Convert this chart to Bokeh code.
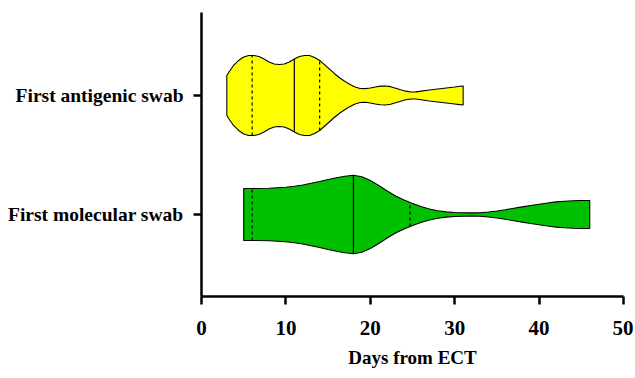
import numpy as np
from bokeh.plotting import figure
from bokeh.models import FixedTicker, Range1d
from bokeh.embed import file_html
from bokeh.resources import INLINE

categories = ["First molecular swab", "First antigenic swab"]
cat_pos = [1, 2]
colors = ["#00C000", "#FFFF00"]

# Violin profiles: x (days) and half-width (pixels at 119 px per category)
ant_x = [3.0, 3.3, 3.8, 4.4, 5.0, 5.6, 6.2, 6.8, 7.4, 8.0, 8.6, 9.2, 9.8, 10.4, 11.0,
         11.6, 12.2, 12.8, 13.4, 14.0, 14.6, 15.2, 15.8, 16.4, 17.0, 17.6, 18.2, 18.8,
         19.4, 20.0, 20.6, 21.2, 21.8, 22.4, 23.0, 23.6, 24.2, 24.8, 25.4, 26.0, 27.0,
         28.0, 29.0, 30.0, 30.6, 31.0]
ant_hw = [20, 24, 30, 35, 38.5, 40, 40, 39, 36.5, 33.5, 31.5, 31, 31.5, 33.5, 36.5,
          39, 40, 40, 38, 35, 30.5, 26, 21.5, 17.5, 14, 11, 8.5, 7,
          6.8, 7.5, 8.5, 9.3, 9.5, 8.8, 7.3, 5.7, 4.3, 3.5, 3.6, 4.3, 5.5,
          6.5, 7.5, 8.5, 9.2, 9.5]
ant_q = [6.0, 11.0, 14.0]

mol_x = [5, 6, 8, 10, 11, 12, 13, 14, 15, 16, 17, 18, 19, 20, 21, 22, 23, 24, 25,
         26, 27, 28, 29, 30, 31, 32, 33, 34, 35, 36, 37, 38, 39, 40, 41, 42, 43, 44,
         45, 46]
mol_hw = [26, 26, 26.3, 27.3, 28.3, 29.5, 31.2, 33, 35, 36.8, 38.3, 39.3, 37.8, 34,
          29, 23.5, 18.5, 14.5, 11, 8, 5.5, 3.8, 2.6, 2, 1.7, 1.6, 1.8, 2.5, 3.5,
          4.8, 6.2, 7.6, 9, 10.3, 11.5, 12.6, 13.3, 13.8, 14, 14]
mol_q = [6.0, 18.0, 24.7]

x_ticks = [0, 10, 20, 30, 40, 50]

SCALE = 119.0

p = figure(width=633, height=370, output_backend="svg", toolbar_location=None,
           x_range=Range1d(0, 50), y_range=Range1d(0.311, 2.697),
           min_border_left=201, min_border_right=10, min_border_top=12, min_border_bottom=74)
p.outline_line_color = None
p.grid.grid_line_color = None

profiles = [(mol_x, mol_hw, mol_q), (ant_x, ant_hw, ant_q)]
for (xs, hws, qs), yc, col in zip(profiles, cat_pos, colors):
    xs = np.array(xs, float)
    hw = np.array(hws, float) / SCALE
    px = np.concatenate([xs, xs[::-1]])
    py = np.concatenate([yc + hw, (yc - hw)[::-1]])
    p.patch(px, py, fill_color=col, line_color="black", line_width=1.1)
    for i, q in enumerate(qs):
        h = np.interp(q, xs, hw)
        p.segment(x0=[q], y0=[yc - h], x1=[q], y1=[yc + h], line_color="black",
                  line_width=1.2, line_dash="solid" if i == 1 else "3 3")

font = "Liberation Serif"
p.xaxis.ticker = FixedTicker(ticks=x_ticks)
p.yaxis.ticker = FixedTicker(ticks=cat_pos)
p.yaxis.major_label_overrides = {1: categories[0], 2: categories[1]}
for ax in (p.xaxis[0], p.yaxis[0]):
    ax.axis_line_width = 2.5
    ax.axis_line_color = "black"
    ax.major_tick_line_width = 2.5
    ax.major_tick_line_color = "black"
    ax.major_tick_out = 8
    ax.major_tick_in = 0
    ax.minor_tick_line_color = None
    ax.major_label_text_font = font
    ax.major_label_text_font_style = "bold"
    ax.major_label_text_color = "black"
p.xaxis.major_label_text_font_size = "21px"
p.yaxis.major_label_text_font_size = "19.5px"
p.xaxis.major_label_standoff = 16
p.yaxis.major_label_standoff = 10
p.xaxis.axis_label = "Days from ECT"
p.xaxis.axis_label_text_font = font
p.xaxis.axis_label_text_font_style = "bold"
p.xaxis.axis_label_text_font_size = "19px"
p.xaxis.axis_label_text_color = "black"
p.xaxis.axis_label_standoff = 9

open("out.html", "w").write(file_html(p, INLINE))
